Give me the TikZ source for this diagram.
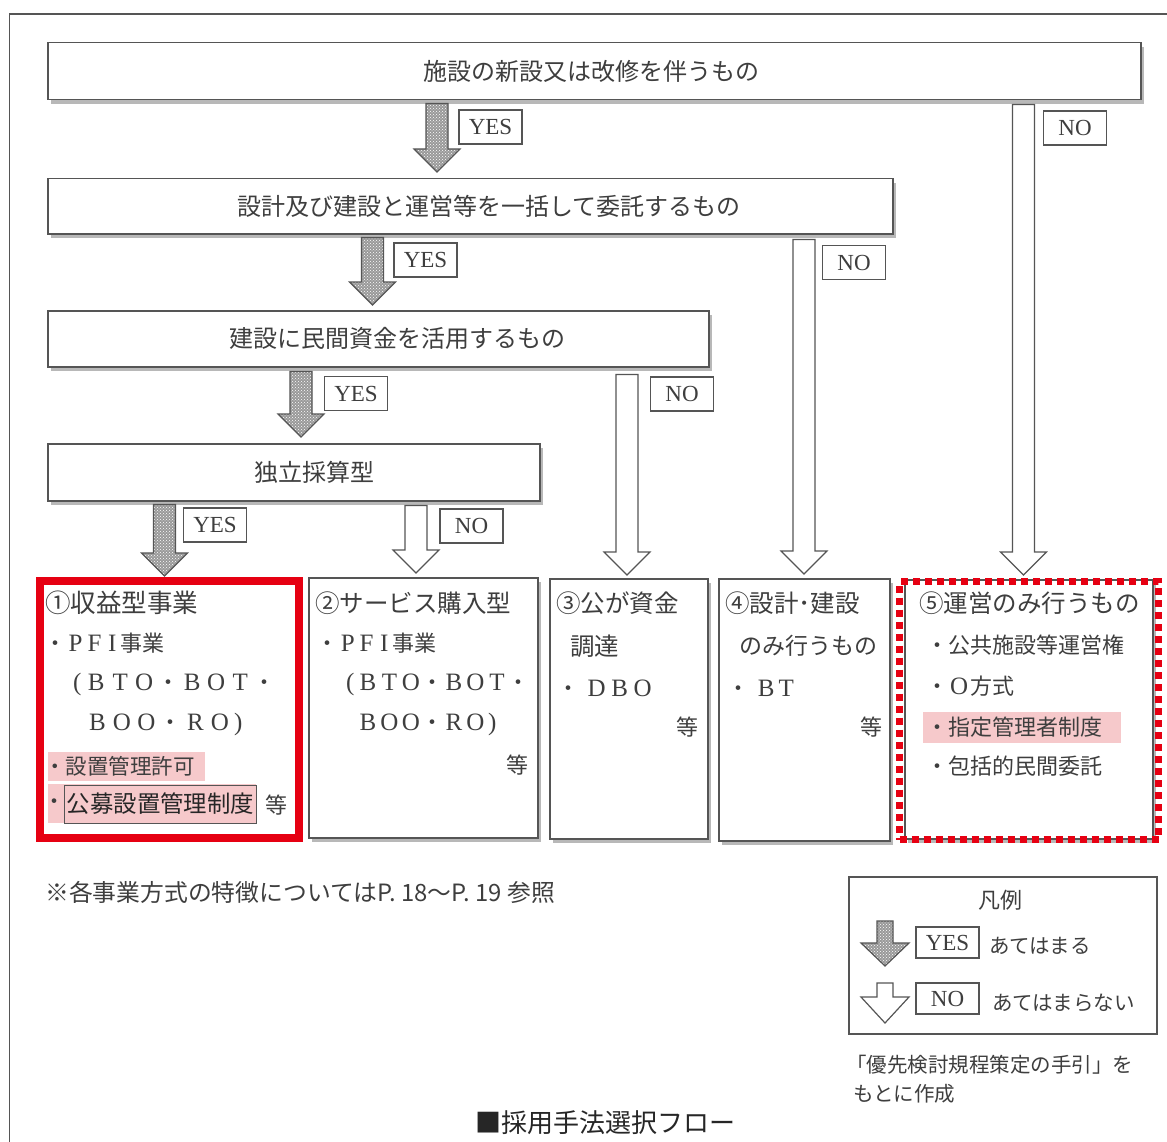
\documentclass[tikz,border=0pt]{standalone}
\usepackage{fontspec}
\setmainfont{Noto Sans CJK JP}
\newfontfamily\jp{Noto Sans CJK JP}
\newfontfamily\ser{Liberation Serif}
\usetikzlibrary{calc,shadows,patterns}
\definecolor{txt}{HTML}{3E3E3E}
\definecolor{bord}{HTML}{555555}
\definecolor{hl}{HTML}{F6C9CB}
\definecolor{redf}{HTML}{E60012}
\newcommand\Lb[2]{\makebox[#1pt][c]{\ser\fontsize{25pt}{25pt}\selectfont #2}}
\newcommand\flowarrow[6]{%
  \draw[#1] let \p1=#2, \p2=#3 in
   (\x1-#4pt,\y1) -- (\x1+#4pt,\y1) -- (\x1+#4pt,\y2+#6pt) -- (\x1+#5pt,\y2+#6pt)
   -- (\x1,\y2) -- (\x1-#5pt,\y2+#6pt) -- (\x1-#4pt,\y2+#6pt) -- cycle;}
\tikzset{
  flowbox/.style={draw=bord, line width=1.5pt, fill=white, inner sep=0pt, anchor=north west,
    drop shadow={shadow xshift=3pt, shadow yshift=-4pt, opacity=0.28, fill=black}},
  btext/.style={inner sep=0pt, text=txt, font=\fontsize{24pt}{28pt}\selectfont},
  hd/.style={anchor=west, inner sep=0pt, text=txt, font=\fontsize{24.5pt}{26pt}\selectfont},
  it/.style={anchor=west, inner sep=0pt, text=txt, font=\fontsize{22pt}{24pt}\selectfont},
  lab/.style={draw=bord, line width=1.2pt, fill=white, minimum width=63pt, minimum height=34pt,
    inner sep=0pt, text=txt, font=\ser\fontsize{23pt}{23pt}\selectfont},
  yesarrow/.style={preaction={fill=black!40}, pattern=crosshatch dots, pattern color=white,
    draw=bord, line width=1.2pt},
  noarrow/.style={draw=bord, fill=white, line width=1.2pt},
}
\begin{document}
\begin{tikzpicture}[x=1pt, y=-1pt]
\useasboundingbox (0,0) rectangle (1167,1142);
\fill[white] (0,0) rectangle (1167,1142);
% outer frame
\draw[bord, line width=1.5pt] (9.5,1142) -- (9.5,14) -- (1167,14);

% flow boxes
\node[flowbox, minimum width=1093pt, minimum height=57pt] (b1) at (47,42) {};
\node[flowbox, minimum width=845pt, minimum height=55pt] (b2) at (47,178) {};
\node[flowbox, minimum width=661pt, minimum height=56pt] (b3) at (47,310) {};
\node[flowbox, minimum width=492pt, minimum height=57pt] (b4) at (47,443) {};
\node[btext] (b1t) at ($(b1.center)+(-3,0)$) {施設の新設又は改修を伴うもの};
\node[btext] (b2t) at ($(b2.center)+(19,0)$) {設計及び建設と運営等を一括して委託するもの};
\node[btext] (b3t) at ($(b3.center)+(19,0)$) {建設に民間資金を活用するもの};
\node[btext] (b4t) at ($(b4.center)+(21,0)$) {独立採算型};

% result boxes
\node[draw=redf, line width=8pt, fill=white, inner sep=0pt, anchor=north west,
  minimum width=259pt, minimum height=257pt,
  drop shadow={shadow xshift=3pt, shadow yshift=-4pt, opacity=0.2, fill=black}] (c1) at (36,577) {};
\node[flowbox, minimum width=229pt, minimum height=260pt] (c2) at (308,577) {};
\node[flowbox, minimum width=158pt, minimum height=260pt] (c3) at (549,578) {};
\node[flowbox, minimum width=171pt, minimum height=262pt] (c4) at (718,578) {};
\node[flowbox, minimum width=248pt, minimum height=259pt] (c5) at (904,579) {};
\node[draw=redf, line width=7pt, dash pattern=on 7pt off 5pt, inner sep=0pt, anchor=north west,
  minimum width=259pt, minimum height=258pt] (c5r) at (896,578) {};

% arrows
\coordinate (ay1) at (437,0);
\coordinate (an1) at (1023.5,0);
\coordinate (ay2) at (372.5,0);
\coordinate (an2) at (804,0);
\coordinate (ay3) at (301,0);
\coordinate (an3) at (627,0);
\coordinate (ay4) at (164.5,0);
\coordinate (an4) at (416,0);
\flowarrow{yesarrow}{($(b1.south -| ay1)+(0,3)$)}{($(b2.north -| ay1)+(0,-6)$)}{11}{23}{23}
\flowarrow{noarrow}{($(b1.south -| an1)+(0,4)$)}{($(c5.north -| an1)+(0,-4)$)}{11}{23}{23}
\flowarrow{yesarrow}{($(b2.south -| ay2)+(0,3)$)}{($(b3.north -| ay2)+(0,-5)$)}{11}{23}{23}
\flowarrow{noarrow}{($(b2.south -| an2)+(0,5)$)}{($(c4.north -| an2)+(0,-4)$)}{11}{23}{23}
\flowarrow{yesarrow}{($(b3.south -| ay3)+(0,4)$)}{($(b4.north -| ay3)+(0,-6)$)}{11}{23}{23}
\flowarrow{noarrow}{($(b3.south -| an3)+(0,7)$)}{($(c3.north -| an3)+(0,-3)$)}{11}{23}{23}
\flowarrow{yesarrow}{($(b4.south -| ay4)+(0,3)$)}{($(c1.north -| ay4)+(0,-1)$)}{11}{23}{23}
\flowarrow{noarrow}{($(b4.south -| an4)+(0,4)$)}{($(c2.north -| an4)+(0,-4)$)}{11}{23}{23}

% labels
\node[lab] (l1) at (490.5,127) {YES};
\node[lab] (l2) at (1075,128) {NO};
\node[lab] (l3) at (425.5,260) {YES};
\node[lab] (l4) at (854,262.5) {NO};
\node[lab] (l5) at (356,393.5) {YES};
\node[lab] (l6) at (682,394) {NO};
\node[lab] (l7) at (215,525) {YES};
\node[lab] (l8) at (471.5,526) {NO};

% box 1 contents
\node[hd, font=\fontsize{25.5pt}{26pt}\selectfont] (c1h) at (45,603) {①収益型事業};
\node[it] (c1a) at (44,643) {・\Lb{19}{P}\Lb{19}{F}\Lb{16}{I}事業};
\node[it] (c1b) at (70,684) {\Lb{14}{(}\Lb{24}{B}\Lb{24}{T}\Lb{24}{O}\makebox[24pt]{・}\Lb{24}{B}\Lb{24}{O}\Lb{24}{T}\makebox[24pt]{・}};
\node[it] (c1c) at (85,724) {\Lb{24.5}{B}\Lb{24.5}{O}\Lb{24.5}{O}\makebox[24.5pt]{・}\Lb{24.5}{R}\Lb{24.5}{O}\Lb{12}{)}};
\fill[hl] (48,752) rectangle (205,781);
\node[it, font=\fontsize{21.5pt}{22pt}\selectfont] (c1d) at (44,766) {・設置管理許可};
\fill[hl] (48,784) rectangle (256,823);
\node[it] (c1e) at (43,804) {・};
\node[draw=bord, line width=1pt, anchor=west, inner sep=0pt, minimum width=192pt, minimum height=38pt,
  text=black!85, font=\fontsize{23.4pt}{24pt}\selectfont] (c1f) at (64,804) {公募設置管理制度};
\node[it] (c1g) at (265,805) {等};

% box 2 contents
\node[hd] (c2h) at (315,603) {②サービス購入型};
\node[it] (c2a) at (316,643) {・\Lb{19}{P}\Lb{19}{F}\Lb{16}{I}事業};
\node[it] (c2b) at (343,684) {\Lb{14}{(}\Lb{21.5}{B}\Lb{21.5}{T}\Lb{21.5}{O}\makebox[21.5pt]{・}\Lb{21.5}{B}\Lb{21.5}{O}\Lb{21.5}{T}\makebox[21.5pt]{・}};
\node[it] (c2c) at (357,724) {\Lb{21.5}{B}\Lb{21.5}{O}\Lb{21.5}{O}\makebox[21.5pt]{・}\Lb{21.5}{R}\Lb{21.5}{O}\Lb{12}{)}};
\node[it] (c2d) at (506,765) {等};

% box 3 contents
\node[hd] (c3h) at (556,603) {③公が資金};
\node[hd] (c3i) at (570,646) {調達};
\node[it] (c3a) at (556,688) {\makebox[24pt]{・}\hspace{5pt}\Lb{23}{D}\Lb{23}{B}\Lb{23}{O}};
\node[it] (c3g) at (676,727) {等};

% box 4 contents
\node[hd] (c4h) at (725,603) {④設計･建設};
\node[hd, font=\fontsize{23pt}{24pt}\selectfont] (c4i) at (739,646) {のみ行うもの};
\node[it] (c4a) at (726,688) {\makebox[24pt]{・}\hspace{6pt}\Lb{20}{B}\Lb{20}{T}};
\node[it] (c4g) at (860,727) {等};

% box 5 contents
\node[hd] (c5h) at (919,603) {⑤運営のみ行うもの};
\node[it] (c5a) at (926,645) {・公共施設等運営権};
\node[it] (c5b) at (926,686) {・\Lb{22}{O}方式};
\fill[hl] (923,712) rectangle (1121,743);
\node[it] (c5c) at (926,727) {・指定管理者制度};
\node[it] (c5d) at (926,766) {・包括的民間委託};

% footnote
\node[anchor=west, inner sep=0pt, text=txt, font=\fontsize{23.8pt}{24pt}\selectfont] (fn) at (45,892)
  {※各事業方式の特徴についてはP. 18～P. 19 参照};

% legend
\node[draw=bord, line width=1.5pt, inner sep=0pt, anchor=north west,
  minimum width=308pt, minimum height=157pt] (lg) at (848,876) {};
\node[inner sep=0pt, text=txt, font=\fontsize{22pt}{24pt}\selectfont] (lgt) at (1000,900) {凡例};
\coordinate (la1s) at (885,921);
\coordinate (la1e) at (885,966);
\coordinate (la2s) at (885,983);
\coordinate (la2e) at (885,1023);
\flowarrow{yesarrow}{(la1s)}{(la1e)}{8}{24}{23}
\flowarrow{noarrow}{(la2s)}{(la2e)}{8}{24}{26}
\node[lab, minimum height=31pt] (lgy) at (947.5,942.5) {YES};
\node[lab, minimum height=31pt] (lgn) at (947.5,998.5) {NO};
\node[anchor=west, inner sep=0pt, text=txt, font=\fontsize{20.5pt}{22pt}\selectfont] (lgya) at (989,946) {あてはまる};
\node[anchor=west, inner sep=0pt, text=txt, font=\fontsize{20.5pt}{22pt}\selectfont] (lgna) at (992,1003) {あてはまらない};

% source
\node[anchor=west, inner sep=0pt, text=txt, font=\fontsize{20.5pt}{22pt}\selectfont] (src1) at (846,1065) {「優先検討規程策定の手引」を};
\node[anchor=west, inner sep=0pt, text=txt, font=\fontsize{20.5pt}{22pt}\selectfont] (src2) at (853,1094) {もとに作成};

% title
\node[anchor=west, inner sep=0pt, text=black!85, font=\fontsize{26pt}{28pt}\selectfont] (ttl) at (475,1123) {■採用手法選択フロー};
\end{tikzpicture}
\end{document}
